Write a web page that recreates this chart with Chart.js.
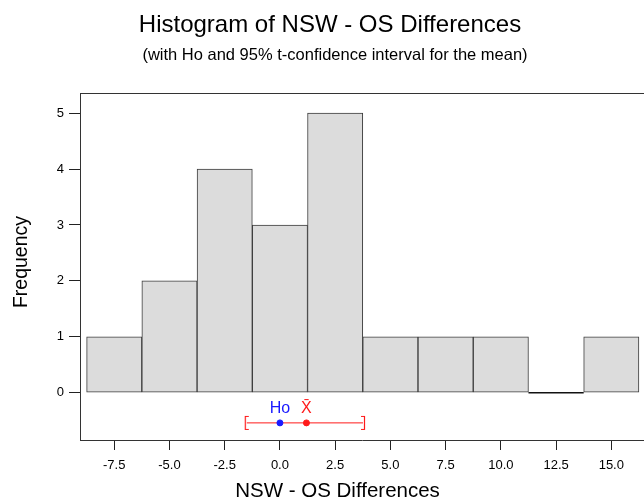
<!DOCTYPE html>
<html><head><meta charset="utf-8">
<script src="https://cdn.jsdelivr.net/npm/chart.js@4"></script>
<style>html,body{margin:0;padding:0;background:#fff}#wrap{width:644px;height:498px}</style>
</head><body><div id="wrap"><canvas id="c" width="644" height="498"></canvas></div>
<script>
const binCenters = [-7.5, -5, -2.5, 0, 2.5, 5, 7.5, 10, 12.5, 15];
const frequencies = [1, 2, 4, 3, 5, 1, 1, 1, 0, 1];
const binWidth = 2.5;
const xTickValues = [-7.5, -5, -2.5, 0, 2.5, 5, 7.5, 10, 12.5, 15];
const yTickValues = [0, 1, 2, 3, 4, 5];
const hoValue = 0;
const meanValue = 1.2;
const ciLower = -1.5;
const ciUpper = 3.76;
const ciRow = -0.54;
const titleText = 'Histogram of NSW - OS Differences';
const subtitleText = '(with Ho and 95% t-confidence interval for the mean)';
const xTitle = 'NSW - OS Differences';
const yTitle = 'Frequency';

const FONT = '"Liberation Sans", Arial, sans-serif';
const RED = '#ff1a1a';
const BLUE = '#1a1aff';

function bracket(left) {
  const c = document.createElement('canvas');
  c.width = 6; c.height = 16;
  const g = c.getContext('2d');
  g.strokeStyle = RED; g.lineWidth = 1.2;
  g.beginPath();
  if (left) { g.moveTo(5, 1.5); g.lineTo(1.5, 1.5); g.lineTo(1.5, 14.5); g.lineTo(5, 14.5); }
  else { g.moveTo(1, 1.5); g.lineTo(4.5, 1.5); g.lineTo(4.5, 14.5); g.lineTo(1, 14.5); }
  g.stroke();
  return c;
}

const barData = binCenters.map((c, i) => ({ x: c, y: frequencies[i] }));
const zeroBins = [];
binCenters.forEach((c, i) => {
  if (frequencies[i] === 0) {
    if (zeroBins.length) zeroBins.push({ x: c, y: null });
    zeroBins.push({ x: c - binWidth / 2, y: 0 }, { x: c + binWidth / 2, y: 0 });
  }
});

const decor = {
  id: 'decor',
  afterDatasetsDraw(chart) {
    const { ctx, chartArea: a, scales: { x, y } } = chart;
    ctx.save();
    ctx.strokeStyle = '#333'; ctx.lineWidth = 1;
    ctx.beginPath(); ctx.moveTo(a.left, a.top + 0.5); ctx.lineTo(a.right, a.top + 0.5); ctx.stroke();
    ctx.textAlign = 'center'; ctx.textBaseline = 'alphabetic';
    ctx.font = '16px ' + FONT;
    const ly = y.getPixelForValue(ciRow) - 10;
    ctx.fillStyle = BLUE; ctx.fillText('Ho', x.getPixelForValue(hoValue), ly);
    ctx.fillStyle = RED;
    ctx.fillText('X\u0304', x.getPixelForValue(meanValue), ly);
    ctx.restore();
  },
  afterDraw(chart) {
    const { ctx } = chart;
    ctx.save();
    ctx.fillStyle = '#000'; ctx.textAlign = 'center'; ctx.textBaseline = 'alphabetic';
    ctx.font = '24px ' + FONT;
    ctx.fillText(titleText, 330, 32);
    ctx.font = '16.5px ' + FONT;
    ctx.fillText(subtitleText, 335, 60);
    ctx.font = '20.5px ' + FONT;
    ctx.fillText(xTitle, 337.5, 497);
    ctx.translate(27, 262); ctx.rotate(-Math.PI / 2);
    ctx.font = '19.5px ' + FONT;
    ctx.fillText(yTitle, 0, 0);
    ctx.restore();
  }
};

new Chart(document.getElementById('c'), {
  data: {
    datasets: [
      { type: 'bar', data: barData, backgroundColor: '#dcdcdc', borderColor: '#3c3c3c', borderWidth: 1,
        borderSkipped: false, barPercentage: 1, categoryPercentage: 1, order: 5 },
      { type: 'line', data: zeroBins, borderColor: '#111', borderWidth: 1.5, pointRadius: 0, spanGaps: false, order: 4 },
      { type: 'line', data: [{ x: ciLower, y: ciRow }, { x: ciUpper, y: ciRow }], borderColor: RED, borderWidth: 1,
        pointStyle: [bracket(true), bracket(false)], pointRadius: 8, order: 3 },
      { type: 'scatter', data: [{ x: meanValue, y: ciRow }], backgroundColor: RED, borderColor: RED, pointRadius: 3, order: 2 },
      { type: 'scatter', data: [{ x: hoValue, y: ciRow }], backgroundColor: BLUE, borderColor: BLUE, pointRadius: 3, order: 1 }
    ]
  },
  options: {
    responsive: false, animation: false, devicePixelRatio: 1,
    layout: { autoPadding: false, padding: { top: 93, right: 0, bottom: 0, left: 0 } },
    plugins: { legend: { display: false }, tooltip: { enabled: false }, title: { display: false } },
    scales: {
      x: {
        type: 'linear', min: -9.05, max: 16.48, offset: false,
        afterBuildTicks: s => { s.ticks = xTickValues.map(v => ({ value: v })); },
        afterFit: s => { s.height = 58; s.paddingLeft = 0; s.paddingRight = 0; },
        ticks: { callback: v => Number(v).toFixed(1), font: { family: FONT, size: 13 }, color: '#000', padding: 8, maxRotation: 0, autoSkip: false },
        grid: { drawOnChartArea: false, offset: false, tickLength: 10, color: '#222', tickWidth: 1 },
        border: { display: true, color: '#333', width: 1 }
      },
      y: {
        type: 'linear', min: -0.846, max: 5.36,
        afterBuildTicks: s => { s.ticks = yTickValues.map(v => ({ value: v })); },
        afterFit: s => { s.width = 80; s.paddingTop = 0; s.paddingBottom = 0; },
        ticks: { callback: v => String(v), font: { family: FONT, size: 13 }, color: '#000', padding: 5 },
        grid: { drawOnChartArea: false, tickLength: 11, color: '#222', tickWidth: 1 },
        border: { display: true, color: '#333', width: 1 }
      }
    }
  },
  plugins: [decor]
});
</script></body></html>
